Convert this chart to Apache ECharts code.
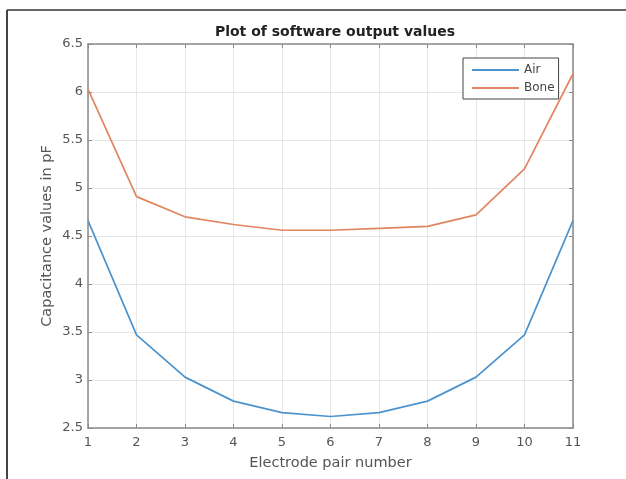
<!DOCTYPE html>
<html>
<head>
<meta charset="utf-8">
<script src="https://cdn.jsdelivr.net/npm/echarts@6/dist/echarts.min.js"></script>
<style>
html,body{margin:0;padding:0;background:#fff;}
#c{width:626px;height:479px;}
</style>
</head>
<body>
<div id="c"></div>
<script>
var electrodePairs = [1, 2, 3, 4, 5, 6, 7, 8, 9, 10, 11];
var airValues  = [4.66, 3.47, 3.03, 2.78, 2.66, 2.62, 2.66, 2.78, 3.03, 3.47, 4.66];
var boneValues = [6.03, 4.91, 4.70, 4.62, 4.56, 4.56, 4.58, 4.60, 4.72, 5.20, 6.19];
var seriesNames = ['Air', 'Bone'];
var titleText = 'Plot of software output values';
var xAxisTitle = 'Electrode pair number';
var yAxisTitle = 'Capacitance values in pF';

function pairs(vals){ return electrodePairs.map(function(x,i){ return [x, vals[i]]; }); }

var font = 'DejaVu Sans, Verdana, sans-serif';
var axisCol = '#8a8a8a';
var chart = echarts.init(document.getElementById('c'), null, {renderer:'canvas'});
chart.setOption({
  backgroundColor: '#fff',
  animation: false,
  title: {
    text: titleText, left: 330, textAlign: 'center', top: 20,
    textStyle: {fontFamily: font, fontSize: 14, fontWeight: 'bold', color: '#222'}
  },
  legend: {
    data: seriesNames, orient: 'vertical', left: 463, top: 58,
    padding: [5, 4, 4, 9], itemGap: 4, itemWidth: 47, itemHeight: 2,
    icon: 'rect',
    borderColor: '#444', borderWidth: 1, backgroundColor: '#fff',
    textStyle: {fontFamily: font, fontSize: 12, lineHeight: 14, color: '#444'}
  },
  grid: {left: 88, right: 53, top: 44, bottom: 51, containLabel: false},
  xAxis: [{
    type: 'value', min: 1, max: 11, interval: 1,
    name: xAxisTitle, nameLocation: 'middle', nameGap: 28,
    nameTextStyle: {fontFamily: font, fontSize: 14.5, color: '#555'},
    axisLine: {show: true, onZero: false, lineStyle: {color: axisCol, width: 1.5}},
    axisTick: {show: true, inside: true, length: 4, lineStyle: {color: axisCol}},
    axisLabel: {fontFamily: font, fontSize: 13, color: '#555', margin: 8},
    splitLine: {show: true, lineStyle: {color: '#e6e6e6', width: 1}}
  }, {
    type: 'value', min: 1, max: 11, interval: 1, position: 'top',
    axisLine: {show: true, onZero: false, lineStyle: {color: axisCol, width: 1.5}},
    axisTick: {show: true, inside: true, length: 4, lineStyle: {color: axisCol}},
    axisLabel: {show: false}, splitLine: {show: false}
  }],
  yAxis: [{
    type: 'value', min: 2.5, max: 6.5, interval: 0.5,
    name: yAxisTitle, nameLocation: 'middle', nameGap: 33, nameMoveOverlap: false,
    nameTextStyle: {fontFamily: font, fontSize: 14.5, color: '#555'},
    axisLine: {show: true, onZero: false, lineStyle: {color: axisCol, width: 1.5}},
    axisTick: {show: true, inside: true, length: 4, lineStyle: {color: axisCol}},
    axisLabel: {fontFamily: font, fontSize: 13, color: '#555', margin: 5},
    splitLine: {show: true, lineStyle: {color: '#e6e6e6', width: 1}}
  }, {
    type: 'value', min: 2.5, max: 6.5, interval: 0.5, position: 'right',
    axisLine: {show: true, onZero: false, lineStyle: {color: axisCol, width: 1.5}},
    axisTick: {show: true, inside: true, length: 4, lineStyle: {color: axisCol}},
    axisLabel: {show: false}, splitLine: {show: false}
  }],
  graphic: [
    {type: 'line', shape: {x1: 7, y1: 10, x2: 626, y2: 10}, style: {stroke: '#666', lineWidth: 2}},
    {type: 'line', shape: {x1: 7, y1: 10, x2: 7, y2: 479}, style: {stroke: '#444', lineWidth: 2}}
  ],
  series: [{
    name: seriesNames[0], type: 'line', data: pairs(airValues),
    symbol: 'none', lineStyle: {color: '#4d93cc', width: 1.7}, itemStyle: {color: '#4d93cc'}
  }, {
    name: seriesNames[1], type: 'line', data: pairs(boneValues),
    symbol: 'none', lineStyle: {color: '#e08660', width: 1.7}, itemStyle: {color: '#e08660'}
  }]
});
</script>
</body>
</html>
